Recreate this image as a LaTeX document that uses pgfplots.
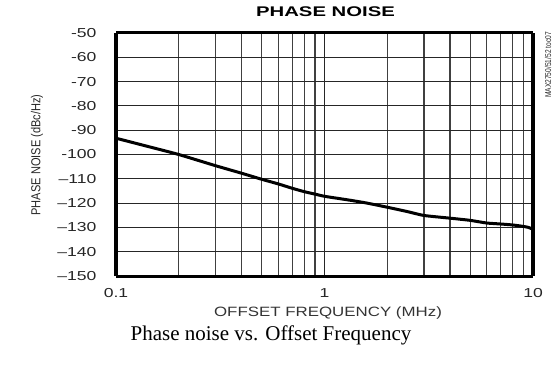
\documentclass[border=0pt]{standalone}
\usepackage{fontspec}
\setmainfont{Liberation Sans}
\newfontfamily\tickfont[FakeStretch=1.35]{Liberation Sans}
\newfontfamily\ylabfont[FakeStretch=0.85]{Liberation Sans}
\newfontfamily\xlabfont[FakeStretch=1.25]{Liberation Sans}
\newfontfamily\titlefont[FakeStretch=1.45]{Liberation Sans}
\newfontfamily\sidefont[FakeStretch=0.78]{Liberation Sans}
\newfontfamily\capfont{Liberation Serif}
\usepackage{pgfplots}
\pgfplotsset{compat=1.18}
\begin{document}
\begin{tikzpicture}[x=1bp,y=1bp]
\path[use as bounding box] (0,0) rectangle (556,365);
\begin{axis}[
  at={(116bp,89bp)}, anchor=south west,
  scale only axis, width=417bp, height=243bp,
  xmode=log, xmin=0.1, xmax=10, ymin=-150, ymax=-50,
  xtick={0.1,1,10}, xticklabels={0.1,1,10},
  minor xtick={0.2,0.3,0.4,0.5,0.6,0.7,0.8,0.9,2,3,4,5,6,7,8,9},
  ytick={-150,-140,-130,-120,-110,-100,-90,-80,-70,-60,-50},
  yticklabels={\textendash150,\textendash140,\textendash130,\textendash120,\textendash110,-100,-90,-80,-70,-60,-50},
  major tick length=0pt, minor tick length=0pt,
  xmajorgrids, xminorgrids, ymajorgrids,
  major grid style={line width=1.2bp, black!85},
  minor grid style={line width=1.2bp, black!75},
  separate axis lines,
  x axis line style={line width=3bp},
  y axis line style={line width=4.5bp},
  tick label style={font=\tickfont\fontsize{13bp}{15bp}\selectfont, text=black!85},
  yticklabel style={anchor=east, xshift=-16bp},
  xticklabel style={anchor=north, yshift=-9bp},
]
\addplot[black, line width=3bp, smooth, tension=0.3] coordinates {
(0.1,-93.3) (0.15,-97.2) (0.2,-100) (0.3,-104.6) (0.4,-107.7) (0.5,-110.2)
(0.6,-112.1) (0.7,-113.9) (0.8,-115.3) (0.9,-116.3) (1,-117.2) (1.3,-118.7)
(1.6,-120) (2,-121.7) (2.5,-123.5) (3,-125.1) (4,-126.2) (5,-127.1)
(6,-128.2) (7,-128.6) (8,-129) (9,-129.6) (9.5,-130) (10,-130.8)
};
\end{axis}
\node[anchor=center, font=\titlefont\bfseries\fontsize{14bp}{16bp}\selectfont]
  at (325.5,353) {PHASE NOISE};
\node[anchor=center, font=\xlabfont\fontsize{13.5bp}{16bp}\selectfont, text=black!80]
  at (328,52) {OFFSET FREQUENCY (MHz)};
\node[anchor=center, rotate=90, font=\ylabfont\fontsize{13bp}{15bp}\selectfont, text=black!85]
  at (37,210) {PHASE NOISE (dBc/Hz)};
\node[rotate=90, anchor=center, font=\sidefont\fontsize{8.5bp}{10bp}\selectfont, text=black!85]
  at (548,300) {MAX2750/51/52 toc07};
\node[anchor=center, font=\capfont\fontsize{21bp}{24bp}\selectfont]
  at (271,30) {Phase noise vs. Offset Frequency};
\end{tikzpicture}
\end{document}
